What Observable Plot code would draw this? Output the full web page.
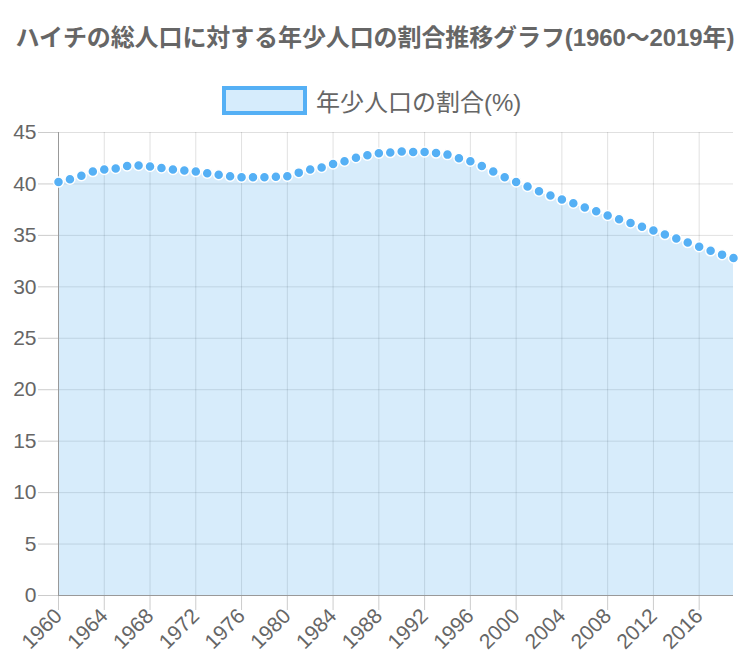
<!DOCTYPE html>
<html>
<head>
<meta charset="utf-8">
<script src="https://cdn.jsdelivr.net/npm/d3@7"></script>
<script src="https://cdn.jsdelivr.net/npm/@observablehq/plot@0.6"></script>
<style>
  html, body { margin: 0; padding: 0; background: #fff; }
  body { width: 750px; height: 666px; position: relative; overflow: hidden;
         font-family: "Liberation Sans", "Noto Sans CJK JP", Arial, sans-serif; }
  #title { position: absolute; left: 0; top: 18px; width: 750px; text-align: center;
           font-size: 24px; font-weight: bold; color: #666; white-space: nowrap; letter-spacing: -0.1px; z-index: 2; }
  #legend { position: absolute; left: 222px; top: 86px; height: 29px; display: flex; align-items: center; z-index: 2; }
  #legend .box { width: 77px; height: 21px; border: 4px solid #55b0f5; background: #d6ecfc; }
  #legend .lab { margin-left: 9px; font-size: 24px; color: #666; white-space: nowrap; }
  #chart { position: absolute; left: 0; top: 105px; z-index: 1; }
</style>
</head>
<body>
<div id="title">ハイチの総人口に対する年少人口の割合推移グラフ(1960～2019年)</div>
<div id="legend"><div class="box"></div><div class="lab">年少人口の割合(%)</div></div>
<div id="chart"></div>
<script>
const years = [1960,1961,1962,1963,1964,1965,1966,1967,1968,1969,
               1970,1971,1972,1973,1974,1975,1976,1977,1978,1979,
               1980,1981,1982,1983,1984,1985,1986,1987,1988,1989,
               1990,1991,1992,1993,1994,1995,1996,1997,1998,1999,
               2000,2001,2002,2003,2004,2005,2006,2007,2008,2009,
               2010,2011,2012,2013,2014,2015,2016,2017,2018,2019];
const youthShare = [40.2,40.46,40.8,41.2,41.4,41.5,41.75,41.8,41.7,41.55,
                    41.4,41.3,41.2,41.05,40.9,40.75,40.65,40.65,40.65,40.7,
                    40.75,41.1,41.4,41.6,41.95,42.2,42.55,42.8,42.98,43.05,
                    43.15,43.1,43.1,43.0,42.85,42.5,42.2,41.75,41.2,40.65,
                    40.2,39.75,39.3,38.87,38.48,38.13,37.7,37.35,36.93,36.57,
                    36.2,35.83,35.47,35.08,34.7,34.3,33.9,33.5,33.13,32.8];
const xTicks = [1960,1964,1968,1972,1976,1980,1984,1988,1992,1996,2000,2004,2008,2012,2016];
const yTicks = [0,5,10,15,20,25,30,35,40,45];

const data = years.map((y, i) => ({year: y, value: youthShare[i]}));

const chart = Plot.plot({
  width: 750,
  height: 561,
  marginTop: 27,
  marginBottom: 71,
  marginLeft: 58,
  marginRight: 17,
  style: {fontFamily: "'Liberation Sans', Arial, sans-serif", color: "#666", background: "transparent"},
  x: {domain: [1960, 2019], label: null},
  y: {domain: [0, 45], label: null},
  marks: [
    Plot.ruleX(xTicks, {x: d => d, y1: 0, y2: 45, stroke: "#000", strokeOpacity: 0.12}),
    Plot.ruleY(yTicks, {y: d => d, stroke: "#000", strokeOpacity: 0.12}),
    Plot.axisX(xTicks, {tickSize: 15, tickRotate: -45, tickFormat: d => String(d), stroke: "#ccc",
                        fontSize: 21, fill: "#666", tickPadding: 2, label: null}),
    Plot.axisY(yTicks, {tickSize: 20, tickPadding: 2, fontSize: 21, fill: "#666", stroke: "#ccc", label: null}),
    Plot.areaY(data, {x: "year", y: "value", fill: "rgba(54,162,235,0.2)", curve: "monotone-x"}),
    Plot.ruleY([0], {stroke: "#999", strokeWidth: 1}),
    Plot.ruleX([1960], {y1: 0, y2: 45, stroke: "#999", strokeWidth: 1}),
    Plot.lineY(data, {x: "year", y: "value", stroke: "#fff", strokeWidth: 1.5, curve: "monotone-x"}),
    Plot.dot(data, {x: "year", y: "value", r: 5, fill: "#55b0f5", stroke: "#fff", strokeWidth: 1.5})
  ]
});
document.getElementById("chart").appendChild(chart);
</script>
</body>
</html>
